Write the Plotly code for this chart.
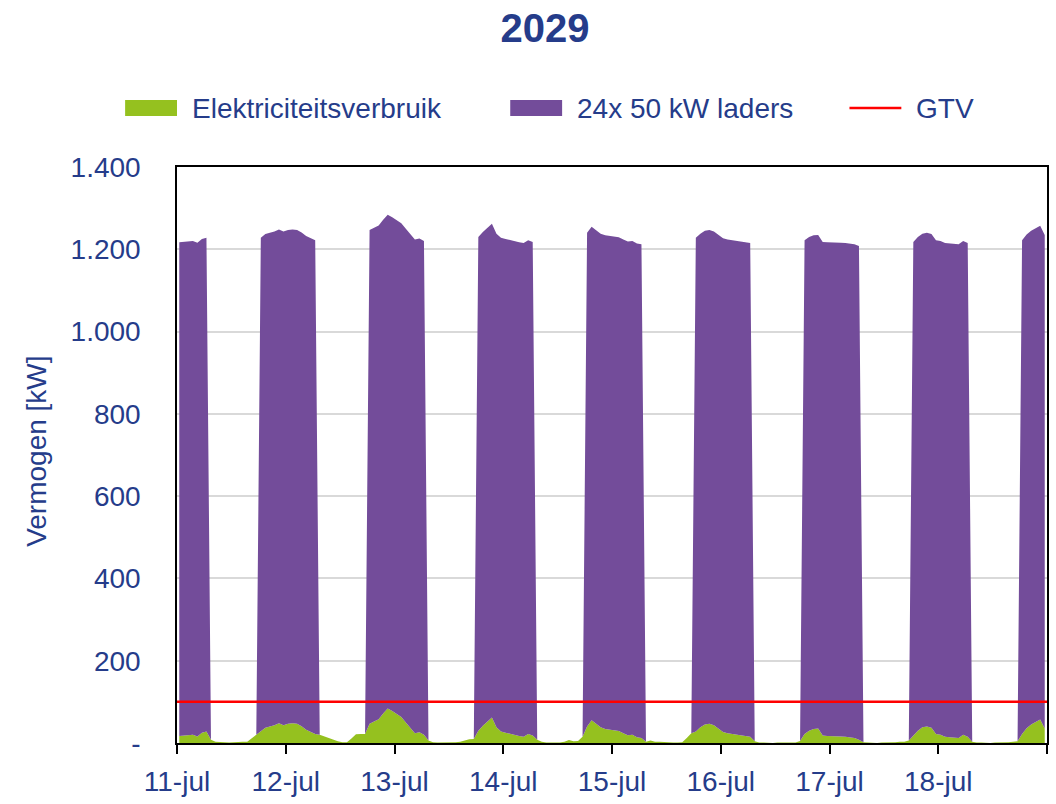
import plotly.graph_objects as go
import pandas as pd

# ---- data -----------------------------------------------------------
days = ["11-jul", "12-jul", "13-jul", "14-jul", "15-jul", "16-jul", "17-jul", "18-jul"]
start = "2029-07-11"

# Elektriciteitsverbruik [kW], hourly, one row per day
verbruik = [
    [17, 18, 19, 20, 16, 25, 28, 8, 3, 2, 1, 1, 2, 3, 3, 3, 12, 20, 28, 37, 40, 43, 48, 43],
    [47, 48, 47, 41, 32, 26, 22, 20, 16, 13, 8, 4, 2, 2, 11, 21, 22, 22, 47, 52, 58, 72, 84, 78],
    [71, 63, 50, 37, 24, 26, 20, 6, 2, 1, 1, 1, 1, 2, 3, 6, 9, 10, 30, 42, 52, 62, 38, 28],
    [25, 22, 19, 17, 15, 22, 18, 8, 3, 1, 1, 1, 1, 3, 7, 4, 5, 15, 40, 55, 47, 38, 34, 32],
    [31, 29, 24, 19, 20, 14, 12, 3, 6, 3, 3, 2, 1, 1, 1, 2, 12, 24, 28, 38, 45, 47, 43, 34],
    [27, 24, 22, 21, 19, 17, 15, 4, 1, 1, 0, 0, 1, 1, 1, 1, 1, 5, 22, 30, 34, 35, 18, 17],
    [17, 16, 16, 15, 14, 12, 8, 2, 1, 0, 0, 1, 1, 1, 2, 3, 3, 6, 18, 30, 38, 40, 37, 22],
    [20, 15, 14, 13, 12, 20, 15, 3, 1, 1, 0, 0, 1, 1, 1, 2, 3, 4, 22, 36, 45, 52, 57, 35],
]

# 24x 50 kW laders [kW], hourly, one row per day
laders = [
    [1200, 1200, 1200, 1200, 1200, 1200, 1200, 0, 0, 0, 0, 0, 0, 0, 0, 0, 0, 0, 1200, 1200, 1200, 1200, 1200, 1200],
    [1200, 1200, 1200, 1200, 1200, 1200, 1200, 0, 0, 0, 0, 0, 0, 0, 0, 0, 0, 0, 1200, 1200, 1200, 1200, 1200, 1200],
    [1200, 1200, 1200, 1200, 1200, 1200, 1200, 0, 0, 0, 0, 0, 0, 0, 0, 0, 0, 0, 1200, 1200, 1200, 1200, 1200, 1200],
    [1200, 1200, 1200, 1200, 1200, 1200, 1200, 0, 0, 0, 0, 0, 0, 0, 0, 0, 0, 0, 1200, 1200, 1200, 1200, 1200, 1200],
    [1200, 1200, 1200, 1200, 1200, 1200, 1200, 0, 0, 0, 0, 0, 0, 0, 0, 0, 0, 0, 1200, 1200, 1200, 1200, 1200, 1200],
    [1200, 1200, 1200, 1200, 1200, 1200, 1200, 0, 0, 0, 0, 0, 0, 0, 0, 0, 0, 0, 1200, 1200, 1200, 1200, 1200, 1200],
    [1200, 1200, 1200, 1200, 1200, 1200, 1200, 0, 0, 0, 0, 0, 0, 0, 0, 0, 0, 0, 1200, 1200, 1200, 1200, 1200, 1200],
    [1200, 1200, 1200, 1200, 1200, 1200, 1200, 0, 0, 0, 0, 0, 0, 0, 0, 0, 0, 0, 1200, 1200, 1200, 1200, 1200, 1200],
]

gtv = 100  # kW

y_ticks = [0, 200, 400, 600, 800, 1000, 1200, 1400]
y_tick_labels = ["-", "200", "400", "600", "800", "1.000", "1.200", "1.400"]

# ---- build ----------------------------------------------------------
green_vals = [v for row in verbruik for v in row]
purple_vals = [v for row in laders for v in row]
n = len(green_vals)
# Excel category axis: each hourly point sits in the middle of its hour slot
times = pd.date_range(pd.Timestamp(start) + pd.Timedelta(minutes=30), periods=n, freq="h")
day_starts = pd.date_range(start, periods=len(days) + 1, freq="D")
x_start, x_end = day_starts[0], day_starts[-1]

TXT = "#253C8A"
GREEN = "#95C11F"
PURPLE = "#734C9A"
RED = "#FF0000"
FONT = "Liberation Sans, Arial, sans-serif"

fig = go.Figure()
fig.add_trace(go.Scatter(x=times, y=green_vals, name="Elektriciteitsverbruik",
                         stackgroup="s", mode="lines", line=dict(width=0, color=GREEN),
                         fillcolor=GREEN))
fig.add_trace(go.Scatter(x=times, y=purple_vals, name="24x 50 kW laders",
                         stackgroup="s", mode="lines", line=dict(width=0, color=PURPLE),
                         fillcolor=PURPLE))
fig.add_trace(go.Scatter(x=[x_start, x_end], y=[gtv, gtv], name="GTV", mode="lines",
                         line=dict(color=RED, width=2.5)))

W, H = 1056, 804
L, R, T, B = 177, 7, 167, 60
pw, ph = W - L - R, H - T - B


def px(xp):
    return (xp - L) / pw


def py(yp):
    return (H - B - yp) / ph


shapes = [
    dict(type="rect", xref="paper", yref="paper", x0=px(125), x1=px(177), y0=py(116), y1=py(100),
         fillcolor=GREEN, line=dict(width=0)),
    dict(type="rect", xref="paper", yref="paper", x0=px(511), x1=px(563), y0=py(116), y1=py(100),
         fillcolor=PURPLE, line=dict(width=0)),
    dict(type="line", xref="paper", yref="paper", x0=px(851), x1=px(903), y0=py(108), y1=py(108),
         line=dict(color=RED, width=2.5)),
]
annotations = [
    dict(text="Elektriciteitsverbruik", xref="paper", yref="paper", x=px(190), y=py(108),
         xanchor="left", yanchor="middle", showarrow=False, font=dict(size=28, color=TXT, family=FONT)),
    dict(text="24x 50 kW laders", xref="paper", yref="paper", x=px(576), y=py(108),
         xanchor="left", yanchor="middle", showarrow=False, font=dict(size=28, color=TXT, family=FONT)),
    dict(text="GTV", xref="paper", yref="paper", x=px(916), y=py(108),
         xanchor="left", yanchor="middle", showarrow=False, font=dict(size=28, color=TXT, family=FONT)),
    dict(text="Vermogen [kW]", xref="paper", yref="paper", x=px(36), y=py(452), textangle=-90,
         xanchor="center", yanchor="middle", showarrow=False, font=dict(size=28, color=TXT, family=FONT)),
]

fig.update_layout(
    width=W, height=H,
    margin=dict(l=L, r=R, t=T, b=B),
    paper_bgcolor="white", plot_bgcolor="white",
    showlegend=False,
    title=dict(text="<b>2029</b>", xref="container", yref="container", x=545 / W, y=1 - 28 / H,
               xanchor="center", yanchor="middle", font=dict(size=40, color=TXT, family=FONT)),
    font=dict(family=FONT, color=TXT, size=28),
    shapes=shapes, annotations=annotations,
)
fig.update_xaxes(
    range=[x_start, x_end], tickvals=list(day_starts), ticktext=days + [""],
    showgrid=False, showline=True, linecolor="black", linewidth=1.5, mirror=True,
    ticks="outside", ticklen=9, tickcolor="black", tickwidth=1.5, ticklabelstandoff=4,
    tickfont=dict(size=28, color=TXT, family=FONT),
)
fig.update_yaxes(
    range=[0, 1400], tickvals=y_ticks, ticktext=y_tick_labels,
    showgrid=True, gridcolor="#D9D9D9", gridwidth=1.5, zeroline=False,
    showline=True, linecolor="black", linewidth=1.5, mirror=True,
    ticks="outside", ticklen=29, tickcolor="rgba(0,0,0,0)",
    tickfont=dict(size=28, color=TXT, family=FONT),
)

fig.write_html("out.html", config={"displayModeBar": False},
               post_script="document.body.style.margin='0';document.body.style.overflow='hidden';")
